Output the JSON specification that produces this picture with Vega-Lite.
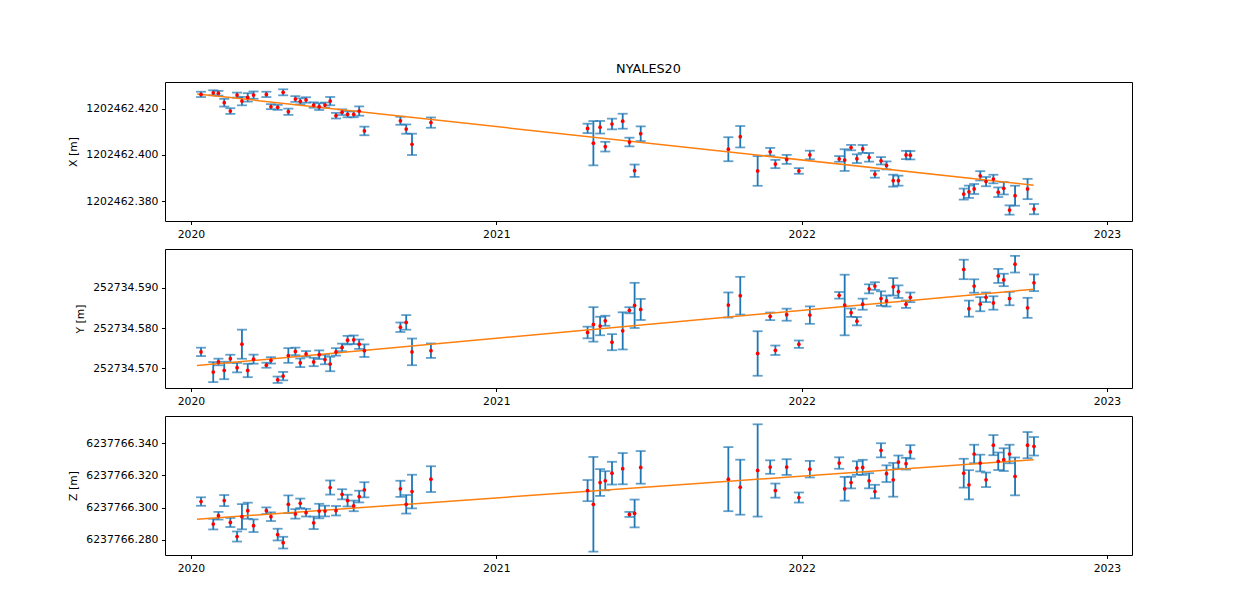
{
  "$schema": "https://vega.github.io/schema/vega-lite/v6.json",
  "background": "white",
  "padding": {"left": 67, "top": 62, "right": 5, "bottom": 5},
  "bounds": "flush",
  "spacing": 28,
  "datasets": {
    "obs": [
      {"t": 2020.033, "X": 1202462.4261, "eX": 0.00115, "Y": 252734.5741, "eY": 0.00104, "Z": 6237766.3038, "eZ": 0.00263},
      {"t": 2020.073, "X": 1202462.4268, "eX": 0.00108, "Y": 252734.5691, "eY": 0.00248, "Z": 6237766.2898, "eZ": 0.00331},
      {"t": 2020.090, "X": 1202462.4266, "eX": 0.00102, "Y": 252734.5716, "eY": 0.00082, "Z": 6237766.2950, "eZ": 0.00238},
      {"t": 2020.109, "X": 1202462.4225, "eX": 0.00166, "Y": 252734.5695, "eY": 0.00216, "Z": 6237766.3044, "eZ": 0.00344},
      {"t": 2020.129, "X": 1202462.4189, "eX": 0.00123, "Y": 252734.5724, "eY": 0.00099, "Z": 6237766.2908, "eZ": 0.00281},
      {"t": 2020.151, "X": 1202462.4258, "eX": 0.00108, "Y": 252734.5702, "eY": 0.00117, "Z": 6237766.2821, "eZ": 0.00313},
      {"t": 2020.167, "X": 1202462.4232, "eX": 0.00182, "Y": 252734.5760, "eY": 0.00360, "Z": 6237766.2944, "eZ": 0.00781},
      {"t": 2020.186, "X": 1202462.4248, "eX": 0.00182, "Y": 252734.5695, "eY": 0.00166, "Z": 6237766.2981, "eZ": 0.00500},
      {"t": 2020.205, "X": 1202462.4258, "eX": 0.00158, "Y": 252734.5723, "eY": 0.00112, "Z": 6237766.2888, "eZ": 0.00394},
      {"t": 2020.247, "X": 1202462.4261, "eX": 0.00115, "Y": 252734.5708, "eY": 0.00062, "Z": 6237766.2981, "eZ": 0.00206},
      {"t": 2020.262, "X": 1202462.4208, "eX": 0.00108, "Y": 252734.5720, "eY": 0.00079, "Z": 6237766.2944, "eZ": 0.00269},
      {"t": 2020.284, "X": 1202462.4205, "eX": 0.00108, "Y": 252734.5672, "eY": 0.00079, "Z": 6237766.2833, "eZ": 0.00363},
      {"t": 2020.302, "X": 1202462.4270, "eX": 0.00130, "Y": 252734.5681, "eY": 0.00104, "Z": 6237766.2783, "eZ": 0.00363},
      {"t": 2020.319, "X": 1202462.4186, "eX": 0.00136, "Y": 252734.5732, "eY": 0.00181, "Z": 6237766.3021, "eZ": 0.00550},
      {"t": 2020.342, "X": 1202462.4241, "eX": 0.00123, "Y": 252734.5742, "eY": 0.00094, "Z": 6237766.2961, "eZ": 0.00294},
      {"t": 2020.358, "X": 1202462.4231, "eX": 0.00130, "Y": 252734.5714, "eY": 0.00107, "Z": 6237766.3027, "eZ": 0.00294},
      {"t": 2020.377, "X": 1202462.4237, "eX": 0.00117, "Y": 252734.5736, "eY": 0.00070, "Z": 6237766.2969, "eZ": 0.00238},
      {"t": 2020.402, "X": 1202462.4215, "eX": 0.00117, "Y": 252734.5716, "eY": 0.00104, "Z": 6237766.2906, "eZ": 0.00388},
      {"t": 2020.420, "X": 1202462.4208, "eX": 0.00145, "Y": 252734.5734, "eY": 0.00107, "Z": 6237766.2979, "eZ": 0.00450},
      {"t": 2020.439, "X": 1202462.4215, "eX": 0.00108, "Y": 252734.5722, "eY": 0.00117, "Z": 6237766.2979, "eZ": 0.00331},
      {"t": 2020.456, "X": 1202462.4232, "eX": 0.00179, "Y": 252734.5711, "eY": 0.00179, "Z": 6237766.3125, "eZ": 0.00438},
      {"t": 2020.475, "X": 1202462.4169, "eX": 0.00121, "Y": 252734.5741, "eY": 0.00092, "Z": 6237766.2981, "eZ": 0.00294},
      {"t": 2020.495, "X": 1202462.4184, "eX": 0.00123, "Y": 252734.5752, "eY": 0.00094, "Z": 6237766.3083, "eZ": 0.00313},
      {"t": 2020.513, "X": 1202462.4175, "eX": 0.00130, "Y": 252734.5770, "eY": 0.00107, "Z": 6237766.3044, "eZ": 0.00363},
      {"t": 2020.533, "X": 1202462.4175, "eX": 0.00130, "Y": 252734.5771, "eY": 0.00107, "Z": 6237766.3011, "eZ": 0.00331},
      {"t": 2020.551, "X": 1202462.4189, "eX": 0.00201, "Y": 252734.5760, "eY": 0.00117, "Z": 6237766.3069, "eZ": 0.00363},
      {"t": 2020.568, "X": 1202462.4103, "eX": 0.00186, "Y": 252734.5744, "eY": 0.00156, "Z": 6237766.3111, "eZ": 0.00469},
      {"t": 2020.686, "X": 1202462.4147, "eX": 0.00173, "Y": 252734.5802, "eY": 0.00117, "Z": 6237766.3117, "eZ": 0.00500},
      {"t": 2020.705, "X": 1202462.4111, "eX": 0.00201, "Y": 252734.5814, "eY": 0.00181, "Z": 6237766.3021, "eZ": 0.00575},
      {"t": 2020.724, "X": 1202462.4045, "eX": 0.00461, "Y": 252734.5741, "eY": 0.00330, "Z": 6237766.3100, "eZ": 0.01044},
      {"t": 2020.786, "X": 1202462.4139, "eX": 0.00223, "Y": 252734.5744, "eY": 0.00179, "Z": 6237766.3177, "eZ": 0.00800},
      {"t": 2021.299, "X": 1202462.4114, "eX": 0.00203, "Y": 252734.5789, "eY": 0.00144, "Z": 6237766.3106, "eZ": 0.00656},
      {"t": 2021.318, "X": 1202462.4050, "eX": 0.00958, "Y": 252734.5809, "eY": 0.00427, "Z": 6237766.3021, "eZ": 0.02938},
      {"t": 2021.340, "X": 1202462.4119, "eX": 0.00272, "Y": 252734.5805, "eY": 0.00229, "Z": 6237766.3156, "eZ": 0.00831},
      {"t": 2021.357, "X": 1202462.4035, "eX": 0.00210, "Y": 252734.5818, "eY": 0.00124, "Z": 6237766.3167, "eZ": 0.00594},
      {"t": 2021.379, "X": 1202462.4133, "eX": 0.00231, "Y": 252734.5765, "eY": 0.00199, "Z": 6237766.3214, "eZ": 0.00706},
      {"t": 2021.414, "X": 1202462.4145, "eX": 0.00324, "Y": 252734.5793, "eY": 0.00460, "Z": 6237766.3242, "eZ": 0.00969},
      {"t": 2021.436, "X": 1202462.4055, "eX": 0.00188, "Y": 252734.5844, "eY": 0.00075, "Z": 6237766.2958, "eZ": 0.00156},
      {"t": 2021.453, "X": 1202462.3931, "eX": 0.00268, "Y": 252734.5856, "eY": 0.00559, "Z": 6237766.2964, "eZ": 0.00863},
      {"t": 2021.473, "X": 1202462.4091, "eX": 0.00318, "Y": 252734.5846, "eY": 0.00261, "Z": 6237766.3250, "eZ": 0.01013},
      {"t": 2021.760, "X": 1202462.4024, "eX": 0.00519, "Y": 252734.5857, "eY": 0.00311, "Z": 6237766.3177, "eZ": 0.01988},
      {"t": 2021.799, "X": 1202462.4078, "eX": 0.00463, "Y": 252734.5880, "eY": 0.00467, "Z": 6237766.3127, "eZ": 0.01706},
      {"t": 2021.856, "X": 1202462.3930, "eX": 0.00642, "Y": 252734.5737, "eY": 0.00551, "Z": 6237766.3231, "eZ": 0.02863},
      {"t": 2021.897, "X": 1202462.4013, "eX": 0.00166, "Y": 252734.5829, "eY": 0.00094, "Z": 6237766.3252, "eZ": 0.00419},
      {"t": 2021.914, "X": 1202462.3960, "eX": 0.00179, "Y": 252734.5745, "eY": 0.00117, "Z": 6237766.3106, "eZ": 0.00438},
      {"t": 2021.951, "X": 1202462.3980, "eX": 0.00195, "Y": 252734.5833, "eY": 0.00149, "Z": 6237766.3252, "eZ": 0.00488},
      {"t": 2021.991, "X": 1202462.3930, "eX": 0.00123, "Y": 252734.5760, "eY": 0.00092, "Z": 6237766.3063, "eZ": 0.00313},
      {"t": 2022.027, "X": 1202462.3999, "eX": 0.00186, "Y": 252734.5832, "eY": 0.00216, "Z": 6237766.3239, "eZ": 0.00513},
      {"t": 2022.123, "X": 1202462.3982, "eX": 0.00123, "Y": 252734.5881, "eY": 0.00082, "Z": 6237766.3277, "eZ": 0.00356},
      {"t": 2022.141, "X": 1202462.3977, "eX": 0.00469, "Y": 252734.5857, "eY": 0.00750, "Z": 6237766.3117, "eZ": 0.00738},
      {"t": 2022.162, "X": 1202462.4031, "eX": 0.00117, "Y": 252734.5838, "eY": 0.00104, "Z": 6237766.3156, "eZ": 0.00363},
      {"t": 2022.181, "X": 1202462.3983, "eX": 0.00188, "Y": 252734.5817, "eY": 0.00104, "Z": 6237766.3246, "eZ": 0.00419},
      {"t": 2022.200, "X": 1202462.4025, "eX": 0.00173, "Y": 252734.5859, "eY": 0.00137, "Z": 6237766.3250, "eZ": 0.00469},
      {"t": 2022.221, "X": 1202462.3989, "eX": 0.00188, "Y": 252734.5897, "eY": 0.00112, "Z": 6237766.3167, "eZ": 0.00469},
      {"t": 2022.240, "X": 1202462.3916, "eX": 0.00151, "Y": 252734.5904, "eY": 0.00094, "Z": 6237766.3100, "eZ": 0.00419},
      {"t": 2022.260, "X": 1202462.3974, "eX": 0.00160, "Y": 252734.5873, "eY": 0.00179, "Z": 6237766.3356, "eZ": 0.00438},
      {"t": 2022.278, "X": 1202462.3954, "eX": 0.00173, "Y": 252734.5867, "eY": 0.00137, "Z": 6237766.3211, "eZ": 0.00519},
      {"t": 2022.300, "X": 1202462.3888, "eX": 0.00259, "Y": 252734.5902, "eY": 0.00216, "Z": 6237766.3173, "eZ": 0.01050},
      {"t": 2022.317, "X": 1202462.3888, "eX": 0.00216, "Y": 252734.5890, "eY": 0.00156, "Z": 6237766.3283, "eZ": 0.00406},
      {"t": 2022.342, "X": 1202462.3999, "eX": 0.00179, "Y": 252734.5859, "eY": 0.00092, "Z": 6237766.3273, "eZ": 0.00363},
      {"t": 2022.356, "X": 1202462.3998, "eX": 0.00182, "Y": 252734.5876, "eY": 0.00119, "Z": 6237766.3346, "eZ": 0.00419},
      {"t": 2022.531, "X": 1202462.3830, "eX": 0.00238, "Y": 252734.5945, "eY": 0.00241, "Z": 6237766.3214, "eZ": 0.00894},
      {"t": 2022.548, "X": 1202462.3840, "eX": 0.00266, "Y": 252734.5848, "eY": 0.00199, "Z": 6237766.3142, "eZ": 0.00906},
      {"t": 2022.565, "X": 1202462.3852, "eX": 0.00216, "Y": 252734.5904, "eY": 0.00166, "Z": 6237766.3333, "eZ": 0.00575},
      {"t": 2022.585, "X": 1202462.3909, "eX": 0.00201, "Y": 252734.5859, "eY": 0.00174, "Z": 6237766.3277, "eZ": 0.00519},
      {"t": 2022.604, "X": 1202462.3884, "eX": 0.00201, "Y": 252734.5876, "eY": 0.00119, "Z": 6237766.3173, "eZ": 0.00450},
      {"t": 2022.628, "X": 1202462.3895, "eX": 0.00186, "Y": 252734.5862, "eY": 0.00166, "Z": 6237766.3388, "eZ": 0.00625},
      {"t": 2022.644, "X": 1202462.3838, "eX": 0.00208, "Y": 252734.5929, "eY": 0.00174, "Z": 6237766.3288, "eZ": 0.00544},
      {"t": 2022.662, "X": 1202462.3855, "eX": 0.00266, "Y": 252734.5919, "eY": 0.00154, "Z": 6237766.3298, "eZ": 0.00706},
      {"t": 2022.681, "X": 1202462.3761, "eX": 0.00201, "Y": 252734.5873, "eY": 0.00166, "Z": 6237766.3333, "eZ": 0.00575},
      {"t": 2022.699, "X": 1202462.3823, "eX": 0.00432, "Y": 252734.5958, "eY": 0.00206, "Z": 6237766.3194, "eZ": 0.01175},
      {"t": 2022.740, "X": 1202462.3852, "eX": 0.00439, "Y": 252734.5850, "eY": 0.00248, "Z": 6237766.3388, "eZ": 0.00813},
      {"t": 2022.761, "X": 1202462.3765, "eX": 0.00223, "Y": 252734.5912, "eY": 0.00206, "Z": 6237766.3381, "eZ": 0.00575}
    ],
    "trend": [
      {"t": 2020.02, "X": 1202462.4263, "Y": 252734.5707, "Z": 6237766.2928},
      {"t": 2022.76, "X": 1202462.3868, "Y": 252734.5896, "Z": 6237766.3298}
    ]
  },
  "vconcat": [
    {
      "width": 967, "height": 139,
      "title": {"text": "NYALES20", "fontSize": 12.8, "fontWeight": "normal", "color": "#000", "offset": 6},
      "layer": [
        {"data": {"name": "obs"}, "mark": {"type": "errorbar", "ticks": true, "size": 10, "thickness": 1.8, "color": "#1f77b4"},
         "encoding": {
           "x": {"field": "t", "type": "quantitative", "scale": {"domain": [2019.915, 2023.082], "nice": false, "zero": false}, "axis": {"values": [2020, 2021, 2022, 2023], "format": "d", "title": null}},
           "y": {"field": "X", "type": "quantitative", "scale": {"domain": [1202462.37136, 1202462.43146], "nice": false, "zero": false}, "axis": {"values": [1202462.38, 1202462.40, 1202462.42], "format": ".3f", "title": "X [m]"}, "title": "X [m]"},
           "yError": {"field": "eX"}
         }},
        {"data": {"name": "trend"}, "mark": {"type": "line", "color": "#ff7f0e", "strokeWidth": 1.5},
         "encoding": {
           "x": {"field": "t", "type": "quantitative", "title": null},
           "y": {"field": "X", "type": "quantitative", "title": "X [m]"}
         }},
        {"data": {"name": "obs"}, "mark": {"type": "point", "filled": true, "color": "#ff0000", "size": 14, "opacity": 1},
         "encoding": {
           "x": {"field": "t", "type": "quantitative", "title": null},
           "y": {"field": "X", "type": "quantitative", "title": "X [m]"}
         }}
      ]
    },
    {
      "width": 967, "height": 139,
      "layer": [
        {"data": {"name": "obs"}, "mark": {"type": "errorbar", "ticks": true, "size": 10, "thickness": 1.8, "color": "#1f77b4"},
         "encoding": {
           "x": {"field": "t", "type": "quantitative", "scale": {"domain": [2019.915, 2023.082], "nice": false, "zero": false}, "axis": {"values": [2020, 2021, 2022, 2023], "format": "d", "title": null}},
           "y": {"field": "Y", "type": "quantitative", "scale": {"domain": [252734.56516, 252734.59956], "nice": false, "zero": false}, "axis": {"values": [252734.57, 252734.58, 252734.59], "format": ".3f", "title": "Y [m]"}, "title": "Y [m]"},
           "yError": {"field": "eY"}
         }},
        {"data": {"name": "trend"}, "mark": {"type": "line", "color": "#ff7f0e", "strokeWidth": 1.5},
         "encoding": {
           "x": {"field": "t", "type": "quantitative", "title": null},
           "y": {"field": "Y", "type": "quantitative", "title": "Y [m]"}
         }},
        {"data": {"name": "obs"}, "mark": {"type": "point", "filled": true, "color": "#ff0000", "size": 14, "opacity": 1},
         "encoding": {
           "x": {"field": "t", "type": "quantitative", "title": null},
           "y": {"field": "Y", "type": "quantitative", "title": "Y [m]"}
         }}
      ]
    },
    {
      "width": 967, "height": 139,
      "layer": [
        {"data": {"name": "obs"}, "mark": {"type": "errorbar", "ticks": true, "size": 10, "thickness": 1.8, "color": "#1f77b4"},
         "encoding": {
           "x": {"field": "t", "type": "quantitative", "scale": {"domain": [2019.915, 2023.082], "nice": false, "zero": false}, "axis": {"values": [2020, 2021, 2022, 2023], "format": "d", "title": null}},
           "y": {"field": "Z", "type": "quantitative", "scale": {"domain": [6237766.27063, 6237766.35688], "nice": false, "zero": false}, "axis": {"values": [6237766.28, 6237766.30, 6237766.32, 6237766.34], "format": ".3f", "title": "Z [m]"}, "title": "Z [m]"},
           "yError": {"field": "eZ"}
         }},
        {"data": {"name": "trend"}, "mark": {"type": "line", "color": "#ff7f0e", "strokeWidth": 1.5},
         "encoding": {
           "x": {"field": "t", "type": "quantitative", "title": null},
           "y": {"field": "Z", "type": "quantitative", "title": "Z [m]"}
         }},
        {"data": {"name": "obs"}, "mark": {"type": "point", "filled": true, "color": "#ff0000", "size": 14, "opacity": 1},
         "encoding": {
           "x": {"field": "t", "type": "quantitative", "title": null},
           "y": {"field": "Z", "type": "quantitative", "title": "Z [m]"}
         }}
      ]
    }
  ],
  "config": {
    "font": "DejaVu Sans",
    "view": {"stroke": "#000", "strokeWidth": 1},
    "axis": {"grid": false, "domain": false, "ticks": true, "tickColor": "#000", "tickSize": 3.5, "labelColor": "#000", "labelFontSize": 10.8, "labelFont": "DejaVu Sans", "labelPadding": 3.5, "titleFont": "DejaVu Sans", "titleFontSize": 10.8, "titleFontWeight": "normal", "titleColor": "#000", "titlePadding": 7},
    "title": {"font": "DejaVu Sans", "fontSize": 12.8, "fontWeight": "normal", "color": "#000"}
  }
}
